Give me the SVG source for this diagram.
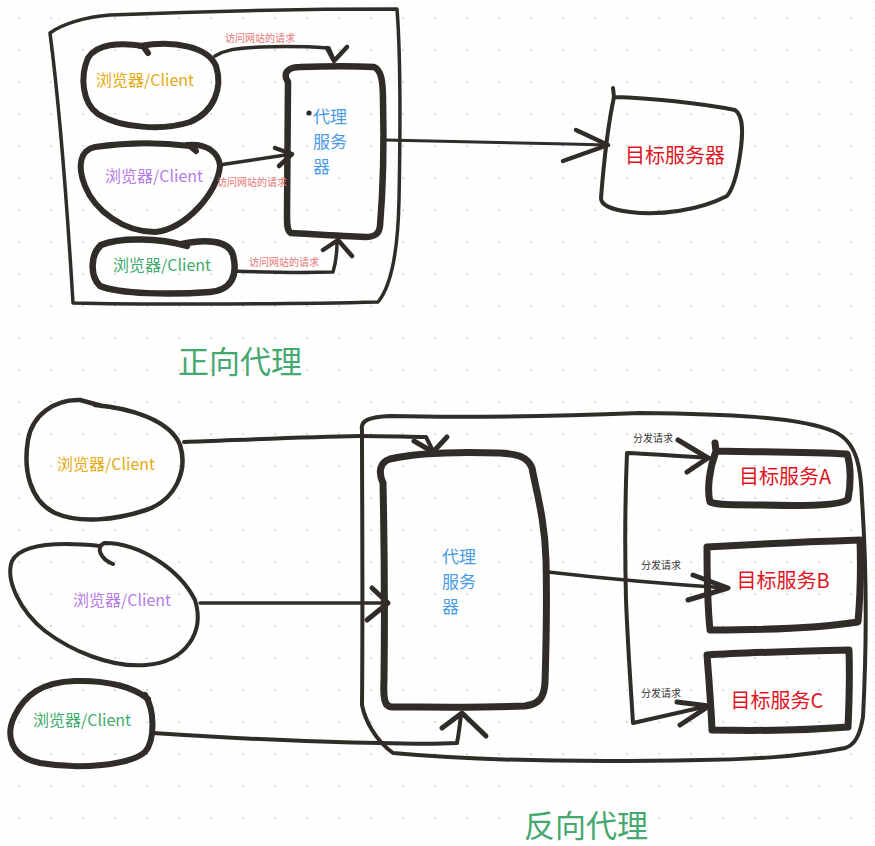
<svg xmlns="http://www.w3.org/2000/svg" width="875" height="846" viewBox="0 0 875 846">
<defs>
<pattern id="gs" x="-1" y="-2" width="8" height="8" patternUnits="userSpaceOnUse"><rect x="3.5" y="3.5" width="1" height="1" fill="#e2e2e2"/></pattern>
<pattern id="gb" x="3" y="2" width="32" height="32" patternUnits="userSpaceOnUse"><rect x="15.5" y="15" width="1.2" height="2" fill="#c4c4c4"/></pattern>
</defs>
<style>
.s{fill:none;stroke:#302d28;stroke-linecap:round;stroke-linejoin:round}
.t{font-family:"Noto Sans CJK SC","Noto Sans",sans-serif}
.req{font-size:10px;fill:#e57373}
.dist{font-size:10px;fill:#333333}
.cy{font-size:16px;fill:#e6a910}
.cp{font-size:16px;fill:#b47ce6}
.cg{font-size:16px;fill:#3eaa6c}
.px{font-size:17px;fill:#4a9be6}
.tg{font-size:20px;fill:#e0141e}
.title{font-size:31px;fill:#45a86f}
</style>
<rect width="875" height="846" fill="#ffffff"/>
<rect width="875" height="846" fill="url(#gs)"/>
<rect width="875" height="846" fill="url(#gb)"/>

<!-- Forward proxy -->
<g id="forward-frame">
<path class="s" stroke-width="3.5" d="M50,33 C62,24 85,17 110,15 C180,12 300,9 397,9 C401,60 400,150 399,200 C398,250 392,285 378,302 C300,304 160,305 73,303 C68,220 60,110 50,33"/>
</g>
<g id="fwd-client1">
<path class="s" stroke-width="6" d="M140,46 C175,40 208,47 216,66 C223,88 214,112 190,122 C163,131 120,128 98,114 C82,103 80,76 88,58 C96,44 120,42 143,46 L148,53"/>
<text class="t cy" x="145" y="86" text-anchor="middle">浏览器/Client</text>
</g>
<g id="fwd-client2">
<path class="s" stroke-width="6" d="M187,145 C207,143 219,153 220,166 C218,192 186,229 155,232 C124,232 95,211 85,186 C77,166 80,150 95,147 C130,142 165,143 190,146 L196,151"/>
<text class="t cp" x="154" y="182" text-anchor="middle">浏览器/Client</text>
</g>
<g id="fwd-client3">
<path class="s" stroke-width="6.5" d="M182,244 C205,239 229,240 233,255 C238,275 232,290 210,292 C170,295 120,294 100,286 C90,276 90,255 101,245 C120,237 160,238 187,246"/>
<text class="t cg" x="162" y="271" text-anchor="middle">浏览器/Client</text>
</g>
<g id="fwd-proxy">
<path class="s" stroke-width="6.5" d="M286,78 C284,70 292,67 300,67 C330,66 355,66 374,67 C381,70 383,80 383,100 C384,140 383,190 380,226 C379,234 375,237 365,237 C340,236 310,234 291,233 C287,231 287,225 287,215 C287,160 288,110 288,82 Z"/>
<circle cx="309" cy="113" r="2.6" fill="#302d28"/>
<text class="t px" x="313" y="123">代理</text>
<text class="t px" x="313" y="148">服务</text>
<text class="t px" x="313" y="173">器</text>
</g>
<g id="fwd-target">
<path class="s" stroke-width="4" d="M613,88 L614,97 C650,98 700,103 735,110 C744,116 743,135 740,155 C737,175 732,190 727,196 C700,210 660,216 630,212 C612,210 601,205 601,198 C604,160 609,120 614,97"/>
<text class="t tg" x="675" y="163" text-anchor="middle">目标服务器</text>
</g>
<g id="fwd-connectors">
<path class="s" stroke-width="3.5" d="M215,56 C225,50 235,48 260,47 C290,46 315,47 329,48 L334,60"/>
<path class="s" stroke-width="4.5" d="M327,48 L334,61 L347,47"/>
<path class="s" stroke-width="3.5" d="M219,165 C240,162 265,158 292,154"/>
<path class="s" stroke-width="4.5" d="M275,148 L292,154 L279,166"/>
<path class="s" stroke-width="3.5" d="M233,271 C260,272 300,273 333,272 C336,262 337,252 337,242"/>
<path class="s" stroke-width="4.5" d="M323,250 L338,240 L352,256"/>
<path class="s" stroke-width="3" d="M385,140 C450,141 530,143 607,145"/>
<path class="s" stroke-width="4.5" d="M576,130 L608,145 L563,161"/>
<text class="t req" x="260" y="42" text-anchor="middle">访问网站的请求</text>
<text class="t req" x="252" y="186" text-anchor="middle">访问网站的请求</text>
<text class="t req" x="284" y="266" text-anchor="middle">访问网站的请求</text>
</g>
<text class="t title" x="178" y="373">正向代理</text>

<!-- Reverse proxy -->
<g id="reverse-frame">
<path class="s" stroke-width="4" d="M362,430 C360,420 370,417 390,416 C470,418 560,416 640,413 C720,414 800,416 835,432 C858,443 861,470 862,500 C866,560 867,640 863,717 C860,735 855,745 845,748 C800,757 740,760 700,760 C600,762 480,761 393,753 C375,740 365,720 362,705 C363,600 362,500 362,430"/>
</g>
<g id="rev-client1">
<path class="s" stroke-width="4.5" d="M95,405 C130,408 170,420 180,445 C188,470 176,500 146,510 C115,520 80,524 55,513 C30,501 23,470 28,440 C32,415 55,399 80,400 L102,406"/>
<text class="t cy" x="106" y="470" text-anchor="middle">浏览器/Client</text>
</g>
<g id="rev-client2">
<path class="s" stroke-width="4" d="M113,564 C100,559 95,546 105,543 C140,543 180,570 195,600 C205,632 186,662 146,665 C110,668 70,650 45,631 C20,611 5,580 12,561 C20,546 50,541 100,546"/>
<text class="t cp" x="122" y="606" text-anchor="middle">浏览器/Client</text>
</g>
<g id="rev-client3">
<path class="s" stroke-width="6" d="M145,695 C155,710 155,740 145,752 C130,765 80,770 40,763 C10,757 5,735 15,715 C25,695 42,682 75,681 C110,680 135,688 148,699"/>
<text class="t cg" x="82" y="726" text-anchor="middle">浏览器/Client</text>
</g>
<g id="rev-proxy">
<path class="s" stroke-width="7" d="M383,483 C378,472 380,462 390,459 C420,452 470,452 500,453 C520,454 528,458 532,468 C536,490 545,520 546,560 C547,600 546,650 545,683 C544,698 539,704 525,706 C480,708 430,707 392,707 C385,707 383,700 384,680 C385,600 384,530 383,483"/>
<text class="t px" x="442" y="563">代理</text>
<text class="t px" x="442" y="588">服务</text>
<text class="t px" x="442" y="613">器</text>
</g>
<g id="target-a">
<path class="s" stroke-width="7" d="M715,443 L716,451 C760,452 810,452 847,454 C851,465 851,485 848,499 C842,506 800,506 760,505 C735,505 715,505 710,502 C707,490 709,470 716,451"/>
<text class="t tg" x="785" y="484" text-anchor="middle">目标服务A</text>
</g>
<g id="target-b">
<path class="s" stroke-width="7" d="M707,547 C740,545 800,542 860,540 C861,570 860,600 858,622 C820,628 760,630 710,630 C707,600 707,570 707,547"/>
<text class="t tg" x="783" y="588" text-anchor="middle">目标服务B</text>
</g>
<g id="target-c">
<path class="s" stroke-width="7" d="M707,655 C750,652 810,651 849,650 C850,680 849,705 848,727 C810,730 760,731 712,730 C711,705 709,680 707,655"/>
<text class="t tg" x="777" y="708" text-anchor="middle">目标服务C</text>
</g>
<g id="rev-connectors">
<path class="s" stroke-width="4" d="M184,442 C240,440 300,437 360,436 C385,436 410,437 426,437 L433,451"/>
<path class="s" stroke-width="5" d="M414,441 L433,452 L447,437"/>
<path class="s" stroke-width="3.5" d="M200,603 C260,603 320,603 386,603"/>
<path class="s" stroke-width="5" d="M372,588 L388,603 L367,620"/>
<path class="s" stroke-width="4" d="M153,733 C230,738 300,742 380,743 C410,744 440,744 457,743 C459,733 460,723 461,714"/>
<path class="s" stroke-width="5" d="M442,728 L462,713 L486,736"/>
<path class="s" stroke-width="3.5" d="M548,572 C600,578 650,583 727,588"/>
<path class="s" stroke-width="5" d="M693,575 L728,588 L688,600"/>
<path class="s" stroke-width="4" d="M709,458 C680,456 650,454 627,453 C625,500 625,560 626,600 C628,650 631,690 633,723 C660,717 685,711 708,706"/>
<path class="s" stroke-width="5" d="M678,440 L708,458 L687,472"/>
<path class="s" stroke-width="5" d="M677,702 L709,706 L680,725"/>
<text class="t dist" x="633" y="442">分发请求</text>
<text class="t dist" x="641" y="569">分发请求</text>
<text class="t dist" x="641" y="697">分发请求</text>
</g>
<text class="t title" x="524" y="837">反向代理</text>
</svg>
